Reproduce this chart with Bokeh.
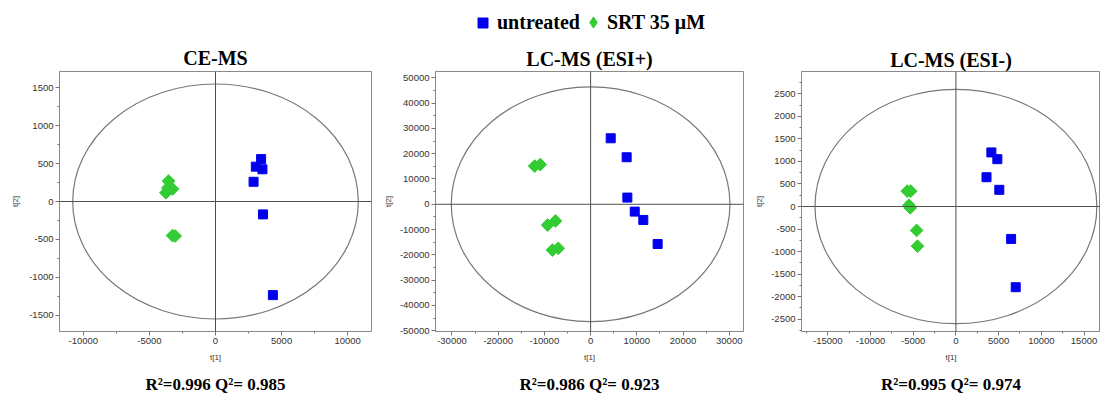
import math
from bokeh.plotting import figure
from bokeh.layouts import row, column
from bokeh.models import Span, Title, Legend, LegendItem, FixedTicker, Range1d
from bokeh.embed import file_html
from bokeh.resources import INLINE

# ---------------- data ----------------
panel_titles = ["CE-MS", "LC-MS (ESI+)", "LC-MS (ESI-)"]
panel_stats = ["R\u00b2=0.996 Q\u00b2= 0.985", "R\u00b2=0.986 Q\u00b2= 0.923", "R\u00b2=0.995 Q\u00b2= 0.974"]
group_labels = ["untreated", "SRT 35 \u03bcM"]

ce_untreated_t1 = [3450, 3050, 3550, 2880, 3590, 4340]
ce_untreated_t2 = [560, 460, 425, 260, -170, -1235]
ce_srt_t1 = [-3550, -3750, -3600, -3250, -3250, -3050]
ce_srt_t2 = [270, 115, 180, 165, -450, -455]

esip_untreated_t1 = [4350, 7800, 7950, 9550, 11400, 14500]
esip_untreated_t2 = [26100, 18600, 2650, -2900, -6200, -15700]
esip_srt_t1 = [-12100, -10900, -9300, -7600, -8250, -7000]
esip_srt_t2 = [15100, 15700, -8200, -6600, -18100, -17400]

esin_untreated_t1 = [4150, 4850, 3580, 5080, 6460, 7000]
esin_untreated_t2 = [1200, 1050, 650, 370, -720, -1790]
esin_srt_t1 = [-5700, -5300, -5500, -5350, -4600, -4500]
esin_srt_t2 = [340, 340, 30, -30, -530, -880]

ellipse_rx = [10800, 30150, 16500]
ellipse_ry = [1550, 46400, 2600]

x_ticks = [[-10000, -5000, 0, 5000, 10000],
           [-30000, -20000, -10000, 0, 10000, 20000, 30000],
           [-15000, -10000, -5000, 0, 5000, 10000, 15000]]
y_ticks = [[-1500, -1000, -500, 0, 500, 1000, 1500],
           [-50000, -40000, -30000, -20000, -10000, 0, 10000, 20000, 30000, 40000, 50000],
           [-2500, -2000, -1500, -1000, -500, 0, 500, 1000, 1500, 2000, 2500]]
x_minor_step = [2500, 5000, 2500]
y_minor_step = [250, 5000, 250]

# ---------------- layout settings ----------------
BLUE = "#0000ee"
GREEN = "#33cc33"
SERIF = "Liberation Serif"
SANS = "Liberation Sans"
LEG_H = 38
H = 402 - LEG_H
MBT = 33
MBB = 71

cfg = [
    dict(w=380, mbl=59, mbr=9, ylab=6, tstand=5, xr=(-11800, 11800), yr=(-1715, 1715)),
    dict(w=372, mbl=52, mbr=9, ylab=4, tstand=3, xr=(-33560, 33080), yr=(-50300, 52500)),
    dict(w=348, mbl=45, mbr=0, ylab=4, tstand=1, xr=(-18080, 16926), yr=(-2773, 2995)),
]
data = [
    (ce_untreated_t1, ce_untreated_t2, ce_srt_t1, ce_srt_t2),
    (esip_untreated_t1, esip_untreated_t2, esip_srt_t1, esip_srt_t2),
    (esin_untreated_t1, esin_untreated_t2, esin_srt_t1, esin_srt_t2),
]


def minor_list(lo, hi, step):
    vals = []
    v = math.ceil(lo / step) * step
    while v <= hi:
        vals.append(v)
        v += step
    return vals


figs = []
for i in range(3):
    c = cfg[i]
    p = figure(width=c["w"], height=H, x_range=Range1d(*c["xr"]), y_range=Range1d(*c["yr"]),
               output_backend="svg", toolbar_location=None,
               min_border_left=c["mbl"], min_border_right=c["mbr"],
               min_border_top=MBT, min_border_bottom=MBB)
    p.xgrid.visible = False
    p.ygrid.visible = False
    p.outline_line_color = "#8a8a8a"
    p.background_fill_color = "white"
    p.border_fill_color = "white"

    p.xaxis.ticker = FixedTicker(ticks=x_ticks[i],
                                 minor_ticks=minor_list(c["xr"][0], c["xr"][1], x_minor_step[i]))
    p.yaxis.ticker = FixedTicker(ticks=y_ticks[i],
                                 minor_ticks=minor_list(c["yr"][0], c["yr"][1], y_minor_step[i]))
    p.xaxis.major_label_overrides = {v: str(v) for v in x_ticks[i]}
    p.yaxis.major_label_overrides = {v: str(v) for v in y_ticks[i]}
    p.xaxis.axis_label = "t[1]"
    p.yaxis.axis_label = "t[2]"
    for ax in (p.xaxis[0], p.yaxis[0]):
        ax.major_label_text_font = SANS
        ax.major_label_text_font_size = "9.5px"
        ax.major_label_text_color = "#333333"
        ax.axis_line_color = "#8a8a8a"
        ax.major_tick_line_color = "#777777"
        ax.minor_tick_line_color = "#777777"
        ax.major_tick_out = 4
        ax.major_tick_in = 0
        ax.minor_tick_out = 2
        ax.minor_tick_in = 0
        ax.major_label_standoff = 2
        ax.axis_label_text_font = SANS
        ax.axis_label_text_font_size = "8px"
        ax.axis_label_text_font_style = "normal"
        ax.axis_label_text_color = "#333333"
    p.xaxis.axis_label_standoff = 6
    p.yaxis.axis_label_standoff = c["ylab"]

    p.ellipse(x=[0], y=[0], width=[2 * ellipse_rx[i]], height=[2 * ellipse_ry[i]],
              fill_color=None, line_color="#777777", line_width=1.2)
    p.add_layout(Span(location=0, dimension="height", line_color="#505050", line_width=1))
    p.add_layout(Span(location=0, dimension="width", line_color="#505050", line_width=1))

    ux, uy, sx, sy = data[i]
    p.scatter(ux, uy, marker="square", size=9, color=BLUE)
    p.scatter(sx, sy, marker="square", size=9, angle=math.pi / 4, color=GREEN)

    p.add_layout(Title(text=panel_titles[i], align="center", text_font=SERIF,
                       text_font_size="20px", text_font_style="bold", text_color="black",
                       standoff=c["tstand"]), "above")
    p.add_layout(Title(text=panel_stats[i], align="center", text_font=SERIF,
                       text_font_size="17px", text_font_style="bold", text_color="black",
                       standoff=17), "below")
    figs.append(p)

# ---------------- legend strip ----------------
leg = figure(width=1100, height=LEG_H, output_backend="svg", toolbar_location=None,
             x_range=Range1d(0, 1), y_range=Range1d(0, 1),
             x_axis_location=None, y_axis_location=None, min_border=0)
leg.outline_line_color = None
leg.xgrid.visible = False
leg.ygrid.visible = False
# legend proxies (kept outside the visible range of this strip)
r_u = leg.scatter(x=[-5], y=[-5], marker="square", color=BLUE)
r_s = leg.scatter(x=[-5], y=[-5], marker="diamond", color=GREEN)

common = dict(orientation="horizontal", padding=0, margin=0, border_line_color=None,
              background_fill_alpha=0, label_text_font=SERIF, label_text_font_style="bold",
              label_text_font_size="20px", label_text_color="black", spacing=0)
leg1 = Legend(items=[LegendItem(label=group_labels[0], renderers=[r_u])],
              location=(470, LEG_H - 10 - 25), glyph_width=25, glyph_height=25,
              label_standoff=2, **common)
leg2 = Legend(items=[LegendItem(label=group_labels[1], renderers=[r_s])],
              location=(579, LEG_H - 8 - 28), glyph_width=28, glyph_height=28,
              label_standoff=0, **common)
leg.add_layout(leg1, "center")
leg.add_layout(leg2, "center")

layout = column(leg, row(*figs))
open("out.html", "w").write(file_html(layout, INLINE))
